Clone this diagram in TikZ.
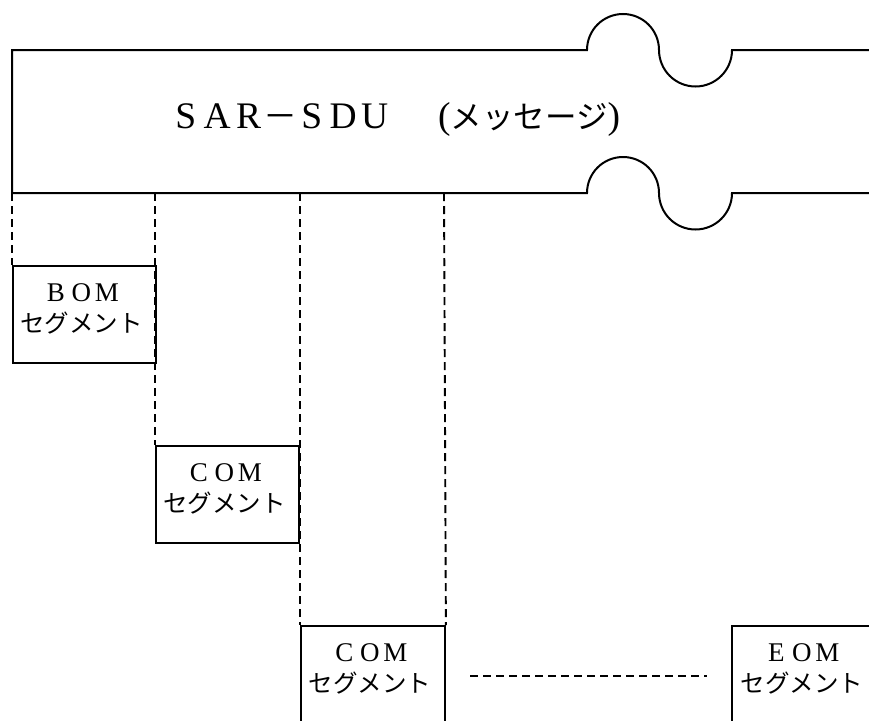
\documentclass[tikz,border=0pt]{standalone}
\usepackage{fontspec}
\setmainfont{Liberation Serif}
\newfontfamily\jpf{Noto Sans CJK JP}
\newcommand\ttcell[1]{\makebox[31.5pt]{#1}}
\newcommand\smcell[1]{\makebox[25.5pt]{#1}}
\tikzset{
  band/.style={line width=2pt},
  segbox/.style={draw, line width=1.9pt, minimum width=143pt, minimum height=97pt, inner sep=0pt, anchor=north west},
  guide/.style={line width=1.9pt, dash pattern=on 8pt off 5pt},
  seglabel/.style={inner sep=0pt, anchor=base},
}
\begin{document}
\begin{tikzpicture}[x=1pt,y=-1pt]
\useasboundingbox (0,0) rectangle (869,720);
\clip (0,0) rectangle (869,720);
% message band
\draw[band] (869,50) -- (732,50) arc (0:180:36.5) arc (0:-180:36) -- (12,50) -- (12,193)
  -- (587,193) arc (180:360:36) arc (180:0:36.5) -- (869,193);
\node[inner sep=0pt, anchor=base west] (title) at (169.75,128)
  {\fontsize{37.5}{40}\selectfont\ttcell{S}\ttcell{A}\ttcell{R}\ttcell{\jpf\fontsize{34}{40}\selectfont －}\ttcell{S}\ttcell{D}\ttcell{U}\hspace{47.75pt}({\jpf\fontsize{31.5}{40}\selectfont メッセージ})};
% segments
\node[segbox] (bom) at (12,265) {};
\node[segbox] (com1) at (155,445) {};
\node[segbox, minimum width=144pt] (com2) at (300,625) {};
\node[segbox, minimum width=144pt] (eom) at (731,625) {};
\node[seglabel] (bomlbl) at ([xshift=-3pt,yshift=-36pt]bom.north)
  {\parbox[t]{150pt}{\centering\fontsize{27}{31.5}\selectfont\smcell{B}\smcell{O}\smcell{M}\\{\jpf\fontsize{24.5}{31.5}\selectfont セグメント}}};
\node[seglabel] (com1lbl) at ([xshift=-3pt,yshift=-36pt]com1.north)
  {\parbox[t]{150pt}{\centering\fontsize{27}{31.5}\selectfont\smcell{C}\smcell{O}\smcell{M}\\{\jpf\fontsize{24.5}{31.5}\selectfont セグメント}}};
\node[seglabel] (com2lbl) at ([xshift=-3pt,yshift=-36pt]com2.north)
  {\parbox[t]{150pt}{\centering\fontsize{27}{31.5}\selectfont\smcell{C}\smcell{O}\smcell{M}\\{\jpf\fontsize{24.5}{31.5}\selectfont セグメント}}};
\node[seglabel] (eomlbl) at ([xshift=-2pt,yshift=-36pt]eom.north)
  {\parbox[t]{150pt}{\centering\fontsize{27}{31.5}\selectfont\smcell{E}\smcell{O}\smcell{M}\\{\jpf\fontsize{24.5}{31.5}\selectfont セグメント}}};
% guides
\coordinate (d1) at (12,193);
\coordinate (d2) at (155,193);
\coordinate (d3) at (300,193);
\coordinate (d4) at (444,193);
\draw[guide] (d1) -- (bom.north west);
\draw[guide] (d2) -- (com1.north west);
\draw[guide] (d3) -- (com2.north west);
\draw[guide] (d4) -- (com2.north east);
\coordinate (h1) at (470,676);
\coordinate (h2) at (707,676);
\draw[guide] (h1) -- (h2);
\end{tikzpicture}
\end{document}
